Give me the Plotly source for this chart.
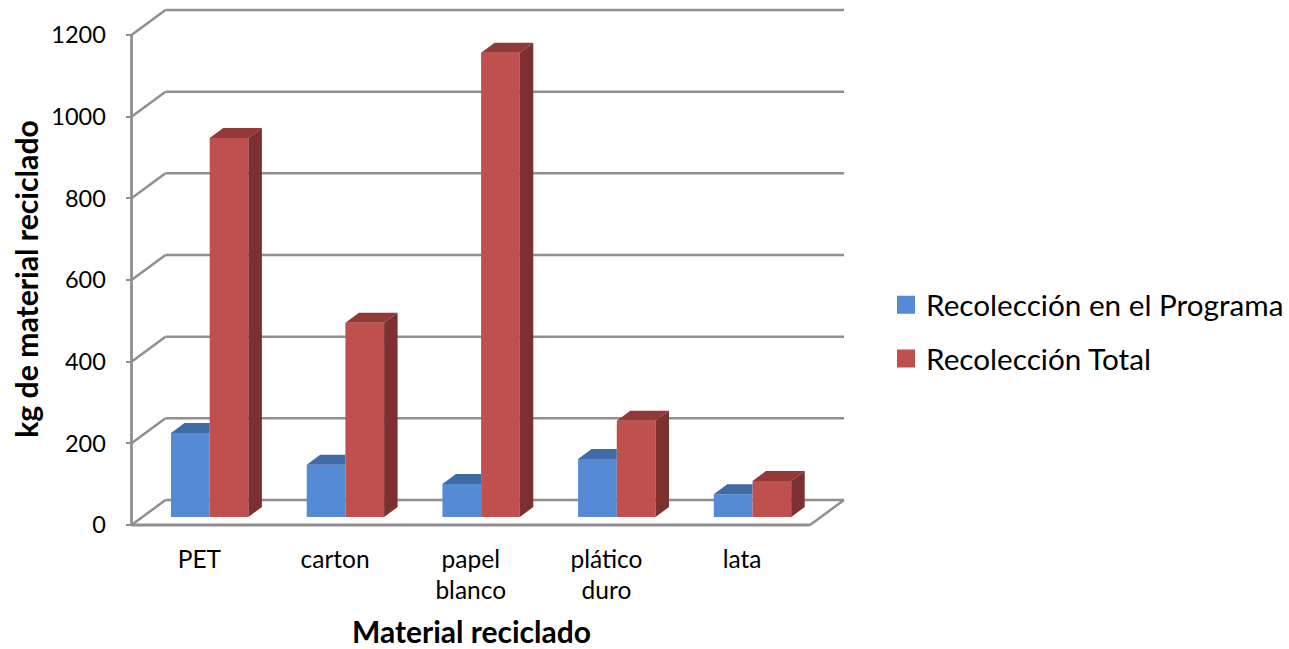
import plotly.graph_objects as go

categories = ["PET", "carton", "papel<br>blanco", "plático<br>duro", "lata"]
programa = [206, 128, 81, 142, 56]
total = [928, 476, 1137, 236, 88]
y_ticks = [0, 200, 400, 600, 800, 1000, 1200]
series_names = ["Recolección en el Programa", "Recolección Total"]

W, H = 1289, 649
FONT = "Lato"
TEXT = "#000000"
GRID = "#8f8f8f"
BLUE, BLUE_TOP = "#558ad5", "#3f6ca6"
RED, RED_TOP, RED_SIDE = "#c0504d", "#933a38", "#7c3130"

# pixel geometry of the pseudo-3D box
X0_PX, Y0_PX = 131.5, 525.0
CAT_PX = 135.7
PX_PER_UNIT = 490.0 / 1200.0
DOM_L, DOM_R = 97.0, 846.0
DOM_T, DOM_B = 0.0, 558.0

xu = lambda px: px / CAT_PX       # px -> x units
yu = lambda px: px / PX_PER_UNIT  # px -> y units

WALL_DX, WALL_DY = xu(34), yu(25)
BAR_DX, BAR_DY = xu(13.5), yu(10)
BAR_BASE = yu(8)
BAR_W = xu(38.7)
BLUE_OFF = xu(39.5)
RED_OFF = BLUE_OFF + BAR_W
n = len(categories)
centers = [i + 0.5 for i in range(n)]

fig = go.Figure()


def poly(points):
    xs, ys = [], []
    for pts in points:
        xs += [p[0] for p in pts] + [pts[0][0], None]
        ys += [p[1] for p in pts] + [pts[0][1], None]
    return xs, ys


def face(points, color):
    xs, ys = poly(points)
    fig.add_trace(go.Scatter(x=xs, y=ys, mode="lines", fill="toself", fillcolor=color,
                             line=dict(width=0, color=color), hoverinfo="skip", showlegend=False))


for name, vals, off, col in [(series_names[0], programa, BLUE_OFF, BLUE),
                             (series_names[1], total, RED_OFF, RED)]:
    fig.add_trace(go.Bar(x=list(range(n)), y=vals, base=BAR_BASE, offset=off, width=BAR_W, name=name,
                         marker=dict(color=col, line=dict(width=0)), showlegend=False))

# blue tops are cut where the red bar in front begins
face([[(i + BLUE_OFF, v + BAR_BASE), (i + RED_OFF, v + BAR_BASE), (i + RED_OFF, v + BAR_BASE + BAR_DY),
       (i + BLUE_OFF + BAR_DX, v + BAR_BASE + BAR_DY)] for i, v in enumerate(programa)], BLUE_TOP)
face([[(i + RED_OFF, v + BAR_BASE), (i + RED_OFF + BAR_W, v + BAR_BASE),
       (i + RED_OFF + BAR_W + BAR_DX, v + BAR_BASE + BAR_DY), (i + RED_OFF + BAR_DX, v + BAR_BASE + BAR_DY)]
      for i, v in enumerate(total)], RED_TOP)
face([[(i + RED_OFF + BAR_W, BAR_BASE), (i + RED_OFF + BAR_W, v + BAR_BASE),
       (i + RED_OFF + BAR_W + BAR_DX, v + BAR_BASE + BAR_DY), (i + RED_OFF + BAR_W + BAR_DX, BAR_BASE + BAR_DY)]
      for i, v in enumerate(total)], RED_SIDE)

# legend entries
for name, col in zip(series_names, [BLUE, RED]):
    fig.add_trace(go.Scatter(x=[None], y=[None], mode="markers", name=name, legendgroup=name,
                             marker=dict(symbol="square", size=16, color=col, line=dict(width=2, color=col))))

# walls and grid
shapes = []


def seg(x0, y0, x1, y1, w=2.5):
    shapes.append(dict(type="line", xref="x", yref="y", x0=x0, y0=y0, x1=x1, y1=y1, layer="below",
                       line=dict(color=GRID, width=w)))


for t in y_ticks:
    seg(0, t, WALL_DX, t + WALL_DY)
    seg(WALL_DX, t + WALL_DY, n + WALL_DX, t + WALL_DY)
seg(0, 0, 0, max(y_ticks), 2.8)
seg(0, 0, n, 0, 3)
seg(n, 0, n + WALL_DX, WALL_DY)

fig.update_layout(
    width=W, height=H, autosize=False,
    margin=dict(l=0, r=0, t=0, b=0, pad=0, autoexpand=False),
    paper_bgcolor="white", plot_bgcolor="rgba(0,0,0,0)",
    barmode="overlay",
    shapes=shapes,
    font=dict(family=FONT, color=TEXT),
    showlegend=True,
    legend=dict(x=886 / W, y=1 - 279 / H, xanchor="left", yanchor="top",
                font=dict(family=FONT, size=29.7, color=TEXT),
                tracegroupgap=12, bgcolor="rgba(0,0,0,0)", borderwidth=0, traceorder="grouped"),
    xaxis=dict(domain=[DOM_L / W, DOM_R / W],
               range=[xu(DOM_L - X0_PX), xu(DOM_R - X0_PX)],
               anchor="free", position=1 - Y0_PX / H,
               tickmode="array", tickvals=centers, ticktext=categories,
               tickfont=dict(family=FONT, size=24.5, color=TEXT),
               showgrid=False, zeroline=False, showline=False, ticks="", ticklabelstandoff=17,
               automargin=False,
               title=dict(text="<b>Material reciclado</b>", font=dict(family=FONT, size=30, color=TEXT), standoff=33)),
    yaxis=dict(domain=[1 - DOM_B / H, 1 - DOM_T / H],
               range=[(Y0_PX - DOM_B) / PX_PER_UNIT, (Y0_PX - DOM_T) / PX_PER_UNIT],
               anchor="free", position=X0_PX / W,
               tickmode="array", tickvals=y_ticks,
               tickfont=dict(family=FONT, size=23.5, color=TEXT),
               showgrid=False, zeroline=False, showline=False,
               ticks="outside", ticklen=6, tickwidth=2, tickcolor=GRID, ticklabelstandoff=15,
               automargin=False,
               title=dict(text="<b>kg de material reciclado</b>", font=dict(family=FONT, size=30.2, color=TEXT), standoff=2)),
)

fig.write_html("out.html", config=dict(displayModeBar=False),
               post_script="document.body.style.margin='0';")
